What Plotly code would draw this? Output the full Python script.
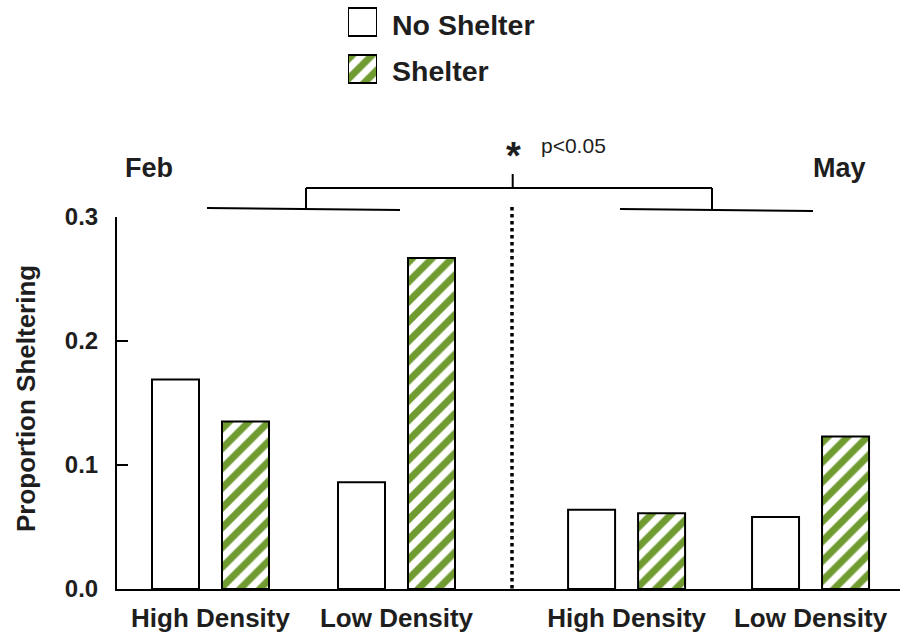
import plotly.graph_objects as go

# ---- data ----
groups = ["High Density", "Low Density", "High Density", "Low Density"]
months = ["Feb", "May"]
series_names = ["No Shelter", "Shelter"]
no_shelter = [0.169, 0.086, 0.064, 0.058]
shelter = [0.135, 0.267, 0.061, 0.123]
y_ticks = [0.0, 0.1, 0.2, 0.3]
y_ticktext = ["0.0", "0.1", "0.2", "0.3"]
y_title = "Proportion Sheltering"
sig_mark = "*"
sig_text = "p<0.05"

# ---- layout helpers ----
W, H = 900, 637
GREEN = "#6F9B30"
INK = "#1e1e1e"
FONT = "Liberation Sans, Arial, sans-serif"


def px(x):
    return x / W


def py(y):
    return 1 - y / H


group_pos = [1.0, 2.0, 3.237, 4.226]
unit = 186.0
bar_w = 47 / unit
off = 35 / unit
pattern = dict(shape="/", fgcolor=GREEN, bgcolor="white", fgopacity=1, size=14, solidity=0.5)
outline = dict(color="black", width=2)

fig = go.Figure()
fig.add_trace(go.Bar(x=group_pos, y=no_shelter, width=bar_w, offset=-off - bar_w / 2,
                     name=series_names[0], marker=dict(color="white", line=outline),
                     showlegend=False))
fig.add_trace(go.Bar(x=group_pos, y=shelter, width=bar_w, offset=off - bar_w / 2,
                     name=series_names[1],
                     marker=dict(color="white", line=outline, pattern=pattern),
                     showlegend=False))

# legend swatches on a hidden helper axis
fig.add_trace(go.Bar(x=[0.5], y=[28], base=[8], width=1, xaxis="x2", yaxis="y2",
                     marker=dict(color="white", line=outline), showlegend=False,
                     hoverinfo="skip"))
fig.add_trace(go.Bar(x=[0.5], y=[28], base=[55], width=1, xaxis="x2", yaxis="y2",
                     marker=dict(color="white", line=outline, pattern=pattern),
                     showlegend=False, hoverinfo="skip"))

bold = lambda s: dict(family=FONT, size=s, color=INK, weight="bold")

annotations = [
    dict(text=series_names[0], x=px(390), y=py(25), xanchor="left", yanchor="middle", font=bold(28.5)),
    dict(text=series_names[1], x=px(390), y=py(71), xanchor="left", yanchor="middle", font=bold(28.5)),
    dict(text=months[0], x=px(123), y=py(168), xanchor="left", yanchor="middle", font=bold(27)),
    dict(text=months[1], x=px(811), y=py(168), xanchor="left", yanchor="middle", font=bold(27)),
    dict(text=sig_mark, x=px(513), y=py(156), xanchor="center", yanchor="middle", font=bold(38)),
    dict(text=sig_text, x=px(539), y=py(145), xanchor="left", yanchor="middle",
         font=dict(family=FONT, size=21, color=INK)),
    dict(text=y_title, x=px(26), y=py(399), xanchor="center", yanchor="middle", textangle=-90,
         font=bold(26)),
]
for a in annotations:
    a.update(xref="paper", yref="paper", showarrow=False)

line = dict(color="black", width=2)
segs = [
    (207, 208, 400, 210),
    (306, 209, 306, 188),
    (306, 188, 712, 188),
    (712, 188, 712, 209),
    (620, 209, 813, 211),
    (512.7, 188, 512.7, 174),
]
shapes = [dict(type="line", xref="paper", yref="paper", x0=px(a), y0=py(b), x1=px(c), y1=py(d),
               line=line) for a, b, c, d in segs]
shapes.append(dict(type="line", xref="paper", yref="paper", x0=px(512), x1=px(512),
                   y0=py(207), y1=py(589), line=dict(color="black", width=3.5, dash="dot")))

fig.update_layout(
    width=W, height=H, autosize=False,
    margin=dict(l=0, r=0, t=0, b=0, pad=0, autoexpand=False),
    paper_bgcolor="white", plot_bgcolor="white",
    barmode="overlay",
    showlegend=False,
    font=dict(family=FONT, color=INK),
    xaxis=dict(domain=[px(117), 1], range=[1 - 93.5 / unit, 1 + 689.5 / unit], automargin=False,
               showline=True, linecolor="black", linewidth=2, showgrid=False, zeroline=False,
               tickvals=group_pos, ticktext=groups, ticks="", ticklabelstandoff=5,
               tickfont=bold(26), fixedrange=True),
    yaxis=dict(domain=[py(589), py(217)], range=[0, 0.3], automargin=False,
               showline=True, linecolor="black", linewidth=2, showgrid=False, zeroline=False,
               tickvals=y_ticks, ticktext=y_ticktext, ticks="inside", ticklen=11, tickwidth=2,
               tickcolor="black", ticklabelstandoff=12, tickfont=bold(24), fixedrange=True),
    xaxis2=dict(domain=[px(348), px(377)], range=[0, 1], visible=False, anchor="y2",
                automargin=False, fixedrange=True),
    yaxis2=dict(domain=[py(90), 1], range=[90, 0], visible=False, anchor="x2",
                automargin=False, fixedrange=True),
    annotations=annotations,
    shapes=shapes,
)

fig.write_html("out.html", config={"displayModeBar": False},
               post_script="document.body.style.margin='0';document.body.style.overflow='hidden';")
